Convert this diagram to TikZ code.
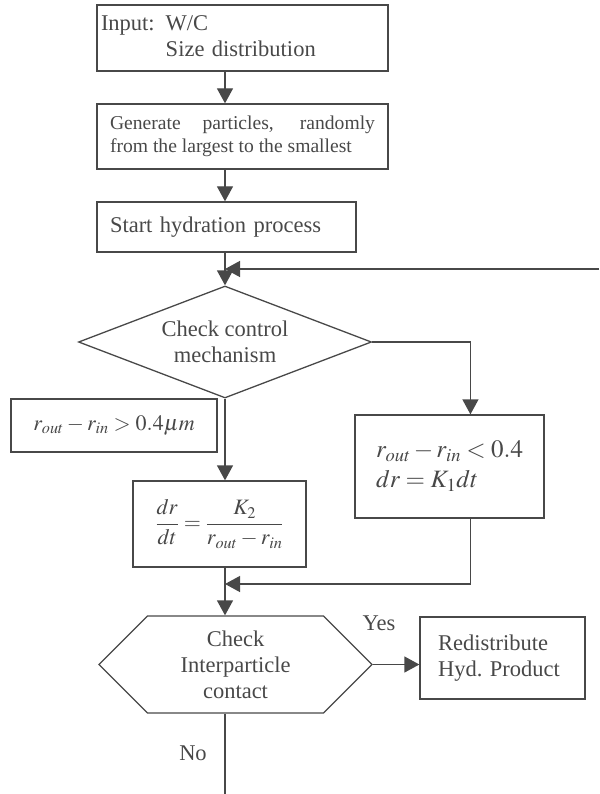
\documentclass[tikz,border=0pt]{standalone}
\usepackage{mathptmx}
\usepackage{fontspec}
\setmainfont{Liberation Serif}
\usetikzlibrary{shapes.geometric,shapes.symbols,arrows.meta,calc}
\definecolor{ink}{RGB}{72,72,72}

\begin{document}
\begin{tikzpicture}[x=1pt, y=-1pt, line width=1.3pt, color=ink,
    box/.style={draw, rectangle, inner sep=0pt, align=left,
      font=\fontsize{22.5}{26}\selectfont},
    decide/.style={draw, diamond, inner sep=0pt, align=center,
      font=\fontsize{22.5}{26}\selectfont},
    hexa/.style={draw, signal, signal to=west and east, signal pointer angle=90,
      inner sep=0pt, align=center, font=\fontsize{22.5}{26}\selectfont},
    link/.style={line width=1.3pt},
    flow/.style={link, -{Triangle[length=15pt,width=16pt]}},
    lab/.style={inner sep=0pt, font=\fontsize{22.5}{26}\selectfont}]
  \useasboundingbox (0,0) rectangle (599,794);
  % ---- main column -------------------------------------------------
  \node[box, text width=283pt, inner xsep=4pt, minimum width=291pt, minimum height=66pt]
    (input) at (242.5,38)
    {\begin{tabular}{@{}l@{\hspace{11pt}}l@{}}Input: & W/C\\ & Size distribution\end{tabular}};
  \node[box, align=justify, text width=265pt, inner xsep=13pt, minimum height=65pt,
    font=\fontsize{19.6}{23}\selectfont]
    (gen) at (242.5,136.5)
    {Generate particles, randomly from the largest to the smallest};
  \node[box, text width=233pt, inner xsep=13pt, minimum height=50pt]
    (start) at (226.5,227) {Start hydration process};
  \node[decide, shape aspect=2.6, minimum width=293pt, minimum height=112pt]
    (ctrl) at (225,342) {Check control\\mechanism};
  % ---- growth rates ------------------------------------------------
  \node[box, align=center, minimum width=206pt, minimum height=53pt,
    font=\fontsize{22}{26}\selectfont]
    (gt) at (114,425.5) {$r_{out}-r_{in}>0.4\mu m$};
  \node[box, text width=147pt, inner xsep=21pt, minimum height=103pt,
    font=\fontsize{25}{30}\selectfont]
    (rate1) at (449.5,466.5) {$r_{out}-r_{in}<0.4$\\$dr=K_1dt$};
  \node[box, align=center, minimum width=173pt, minimum height=86pt,
    font=\fontsize{22}{26}\selectfont]
    (rate2) at (219.5,524)
    {$\displaystyle\frac{dr}{dt}=\frac{K_2}{r_{out}-r_{in}}$};
  % ---- contact check -----------------------------------------------
  \node[hexa, minimum width=273pt, minimum height=97pt]
    (contact) at (235.5,664.5) {Check\\Interparticle\\contact};
  \node[box, text width=129pt, inner xsep=18pt, minimum height=82pt]
    (redist) at (502.5,658) {Redistribute\\Hyd.\ Product};
  \node[lab] (yes) at (379,623) {Yes};
  \node[lab] (no) at (193,753) {No};
  % ---- connectors --------------------------------------------------
  \coordinate (back) at (599,269);
  \coordinate (join) at (225,584);
  \coordinate (exit) at (225,794);
  \draw[flow] (input.south -| ctrl.north) -- (gen.north -| ctrl.north);
  \draw[flow] (gen.south -| ctrl.north) -- (start.north -| ctrl.north);
  \draw[flow] (start.south -| ctrl.north) -- (ctrl.north);
  \draw[flow] (back) -- (back -| ctrl.north);
  \draw[flow] (ctrl.east) -| ($(rate1.north west)!0.61!(rate1.north east)$);
  \draw[flow] (ctrl.south) -- (rate2.north -| ctrl.south);
  \draw[link] (rate2.south -| ctrl.south) -- (join);
  \draw[flow] ($(rate1.south west)!0.61!(rate1.south east)$) |- (join);
  \draw[flow] (join) -- (join |- contact.north);
  \draw[flow] (contact.east) -- (contact.east -| redist.west);
  \draw[link] (contact.south -| ctrl.south) -- (exit);
\end{tikzpicture}
\end{document}
